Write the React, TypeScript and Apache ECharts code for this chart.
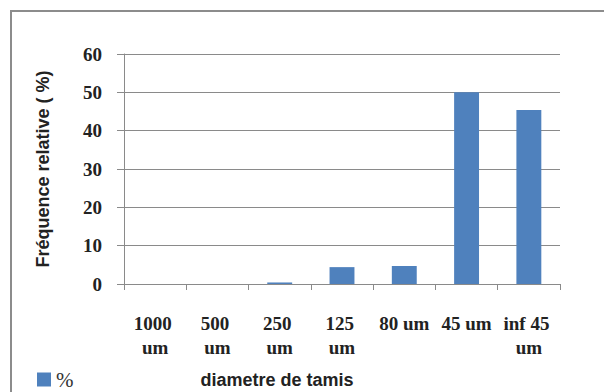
import React, { useEffect, useRef } from "react";
import * as echarts from "echarts";

// Sieve sizes and the share of material retained on each
const categories = ["1000 um", "500 um", "250 um", "125 um", "80 um", "45 um", "inf 45 um"];
const frequency = [0, 0, 0.4, 4.4, 4.7, 50, 45.4];
const seriesName = "%";
const yTitle = "Fréquence relative ( %)";
const xTitle = "diametre de tamis";

const serifFont = "'Liberation Serif', serif";
const sansFont = "'Liberation Sans', sans-serif";

export default function App() {
  const ref = useRef<HTMLDivElement>(null);

  useEffect(() => {
    if (!ref.current) return;
    const chart = echarts.init(ref.current, null, { renderer: "svg" });
    chart.setOption({
      animation: false,
      backgroundColor: "#ffffff",
      grid: { left: 124, right: 44, top: 54, bottom: 108 },
      legend: {
        left: 32,
        top: 364,
        icon: "rect",
        itemWidth: 14,
        itemHeight: 14,
        itemGap: 6,
        textStyle: { fontFamily: serifFont, fontSize: 21, color: "#333" },
        data: [seriesName],
      },
      xAxis: {
        type: "category",
        data: categories,
        axisLine: { lineStyle: { color: "#8a8a8a", width: 1 } },
        axisTick: { show: true, length: 6, lineStyle: { color: "#8a8a8a" } },
        axisLabel: {
          margin: 27,
          interval: 0,
          width: 54,
          overflow: "break",
          lineHeight: 24,
          fontFamily: serifFont,
          fontWeight: "bold",
          fontSize: 19,
          color: "#222",
        },
      },
      yAxis: {
        type: "value",
        min: 0,
        max: 60,
        interval: 10,
        name: yTitle,
        nameLocation: "middle",
        nameGap: 72,
        nameTextStyle: { fontFamily: sansFont, fontWeight: "bold", fontSize: 18, color: "#222" },
        axisLine: { show: true, lineStyle: { color: "#8a8a8a", width: 1 } },
        axisTick: { show: true, length: 7, lineStyle: { color: "#8a8a8a" } },
        splitLine: { lineStyle: { color: "#8a8a8a", width: 1 } },
        axisLabel: {
          margin: 22,
          fontFamily: serifFont,
          fontWeight: "bold",
          fontSize: 19,
          color: "#222",
        },
      },
      series: [
        {
          name: seriesName,
          type: "bar",
          data: frequency,
          barCategoryGap: "60%",
          itemStyle: { color: "#4F81BD" },
        },
      ],
      graphic: [
        {
          type: "rect",
          shape: { x: 11, y: 11, width: 640, height: 420 },
          style: { fill: "none", stroke: "#8c8c8c", lineWidth: 2 },
          silent: true,
        },
        {
          type: "text",
          x: 277,
          y: 380,
          style: {
            text: xTitle,
            fontFamily: sansFont,
            fontWeight: "bold",
            fontSize: 18,
            fill: "#222",
            align: "center",
            verticalAlign: "middle",
          },
        },
      ],
    });
    return () => chart.dispose();
  }, []);

  return (
    <div
      ref={ref}
      style={{ position: "fixed", left: 0, top: 0, width: 604, height: 392 }}
    />
  );
}
